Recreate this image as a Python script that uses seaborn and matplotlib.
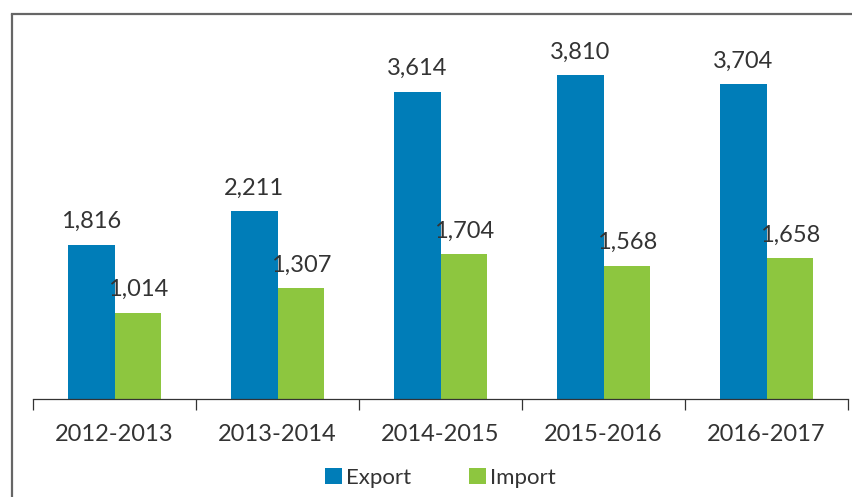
import matplotlib
matplotlib.use("Agg")
import matplotlib.pyplot as plt
import seaborn as sns
import pandas as pd
from matplotlib.lines import Line2D

years = ["2012-2013", "2013-2014", "2014-2015", "2015-2016", "2016-2017"]
export_vals = [1816, 2211, 3614, 3810, 3704]
import_vals = [1014, 1307, 1704, 1568, 1658]
series = ["Export", "Import"]
colors = ["#007DB8", "#8DC63F"]

df = pd.DataFrame({
    "year": years * 2,
    "value": export_vals + import_vals,
    "series": ["Export"] * len(years) + ["Import"] * len(years),
})

sns.set_theme(style="white")
plt.rcParams["font.family"] = ["Lato", "DejaVu Sans"]

W, H = 852, 497
fig = plt.figure(figsize=(W / 100, H / 100), dpi=100)
ax = fig.add_axes([33 / W, (H - 399) / H, (848 - 33) / W, 385 / H])

sns.barplot(data=df, x="year", y="value", hue="series", palette=colors,
            width=0.57, gap=0, ax=ax, saturation=1, legend=True,
            edgecolor="none", linewidth=0)

for c in ax.containers:
    ax.bar_label(c, labels=[f"{v:,.0f}" for v in c.datavalues],
                 padding=9, fontsize=17, color="#333333")

ax.set_xlim(-0.5, 4.5)
ax.set_ylim(0, 4527)
ax.set_xlabel("")
ax.set_ylabel("")
ax.set_yticks([])
for s in ["top", "right", "left"]:
    ax.spines[s].set_visible(False)
ax.spines["bottom"].set_color("#333333")
ax.spines["bottom"].set_linewidth(0.9)
ax.tick_params(axis="x", which="major", bottom=False, length=0, pad=18,
               labelsize=17, labelcolor="#333333")
ax.set_xticks([i - 0.5 for i in range(len(years) + 1)], minor=True)
ax.tick_params(axis="x", which="minor", bottom=True, length=8, width=0.9,
               color="#333333", direction="out")

leg = ax.legend(loc="center", bbox_to_anchor=(0.5, -0.205), ncol=2, frameon=False,
                fontsize=16, handlelength=0.75, handleheight=0.75, handletextpad=0.2,
                columnspacing=2.6, labelcolor="#333333")

# Frame lines
fig.add_artist(Line2D([12 / W, 12 / W], [0, (H - 14) / H], color="#666666", lw=1.6,
                      transform=fig.transFigure, solid_capstyle="butt"))
fig.add_artist(Line2D([12 / W, 1], [(H - 14) / H, (H - 14) / H], color="#666666", lw=1.6,
                      transform=fig.transFigure, solid_capstyle="projecting"))

fig.savefig("out.png", dpi=100)
